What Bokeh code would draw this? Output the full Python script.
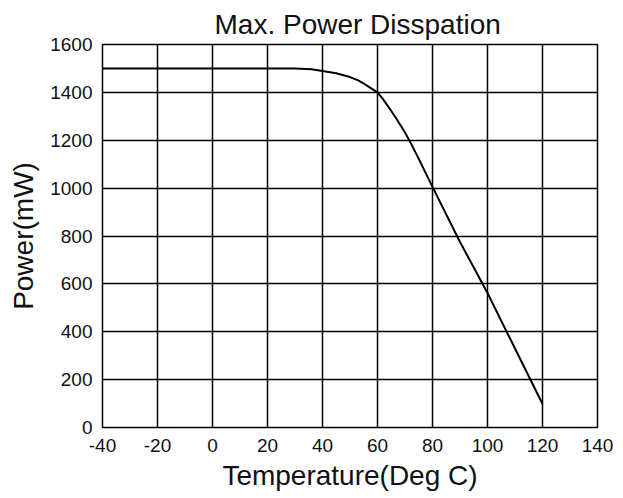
from bokeh.plotting import figure
from bokeh.models import Range1d, FixedTicker
from bokeh.embed import file_html
from bokeh.resources import INLINE

# Data
temperature = [-40, 0, 30, 36, 40, 45, 50, 53, 55, 57, 60, 62, 65, 67, 70, 72, 75, 77, 80, 90, 100, 110, 120]
power = [1500, 1500, 1500, 1497, 1489, 1480, 1464, 1450, 1437, 1422, 1400, 1372, 1322, 1288, 1232, 1190, 1122, 1075, 1005, 775, 562, 330, 98]

x_ticks = [-40, -20, 0, 20, 40, 60, 80, 100, 120, 140]
y_ticks = [0, 200, 400, 600, 800, 1000, 1200, 1400, 1600]

FONT = "Liberation Sans"

p = figure(width=614, height=494, output_backend="svg", toolbar_location=None,
           x_range=Range1d(-40, 140), y_range=Range1d(0, 1600),
           min_border_left=102, min_border_right=17, min_border_top=44, min_border_bottom=67,
           title="Max. Power Disspation")

p.title.align = "left"
p.title.offset = 112
p.title.text_font = FONT
p.title.text_font_size = "28px"
p.title.text_font_style = "normal"
p.title.text_color = "#111111"

p.outline_line_color = "black"
p.outline_line_width = 1.5
p.background_fill_color = "white"
p.border_fill_color = "white"

for ax, ticks in ((p.xaxis[0], x_ticks), (p.yaxis[0], y_ticks)):
    ax.ticker = FixedTicker(ticks=ticks)
    ax.major_label_overrides = {t: str(t) for t in ticks}
    ax.axis_line_color = None
    ax.major_tick_line_color = None
    ax.minor_tick_line_color = None
    ax.major_tick_out = 0
    ax.major_tick_in = 0
    ax.minor_tick_out = 0
    ax.major_label_text_font = FONT
    ax.major_label_text_font_size = "19px"
    ax.major_label_text_color = "#111111"
    ax.axis_label_text_font = FONT
    ax.axis_label_text_font_size = "28px"
    ax.axis_label_text_font_style = "normal"
    ax.axis_label_text_color = "#111111"

p.xaxis.axis_label = "Temperature(Deg C)"
p.yaxis.axis_label = "Power(mW)"
p.xaxis.major_label_standoff = 11
p.yaxis.major_label_standoff = 10
p.yaxis.axis_label_standoff = 8
p.xaxis.axis_label_standoff = 5

p.xgrid.ticker = FixedTicker(ticks=x_ticks)
p.ygrid.ticker = FixedTicker(ticks=y_ticks)
p.grid.grid_line_color = "black"
p.grid.grid_line_width = 1.5
p.grid.grid_line_alpha = 1.0

p.line(temperature, power, line_color="black", line_width=2)

open("out.html", "w").write(file_html(p, INLINE))
